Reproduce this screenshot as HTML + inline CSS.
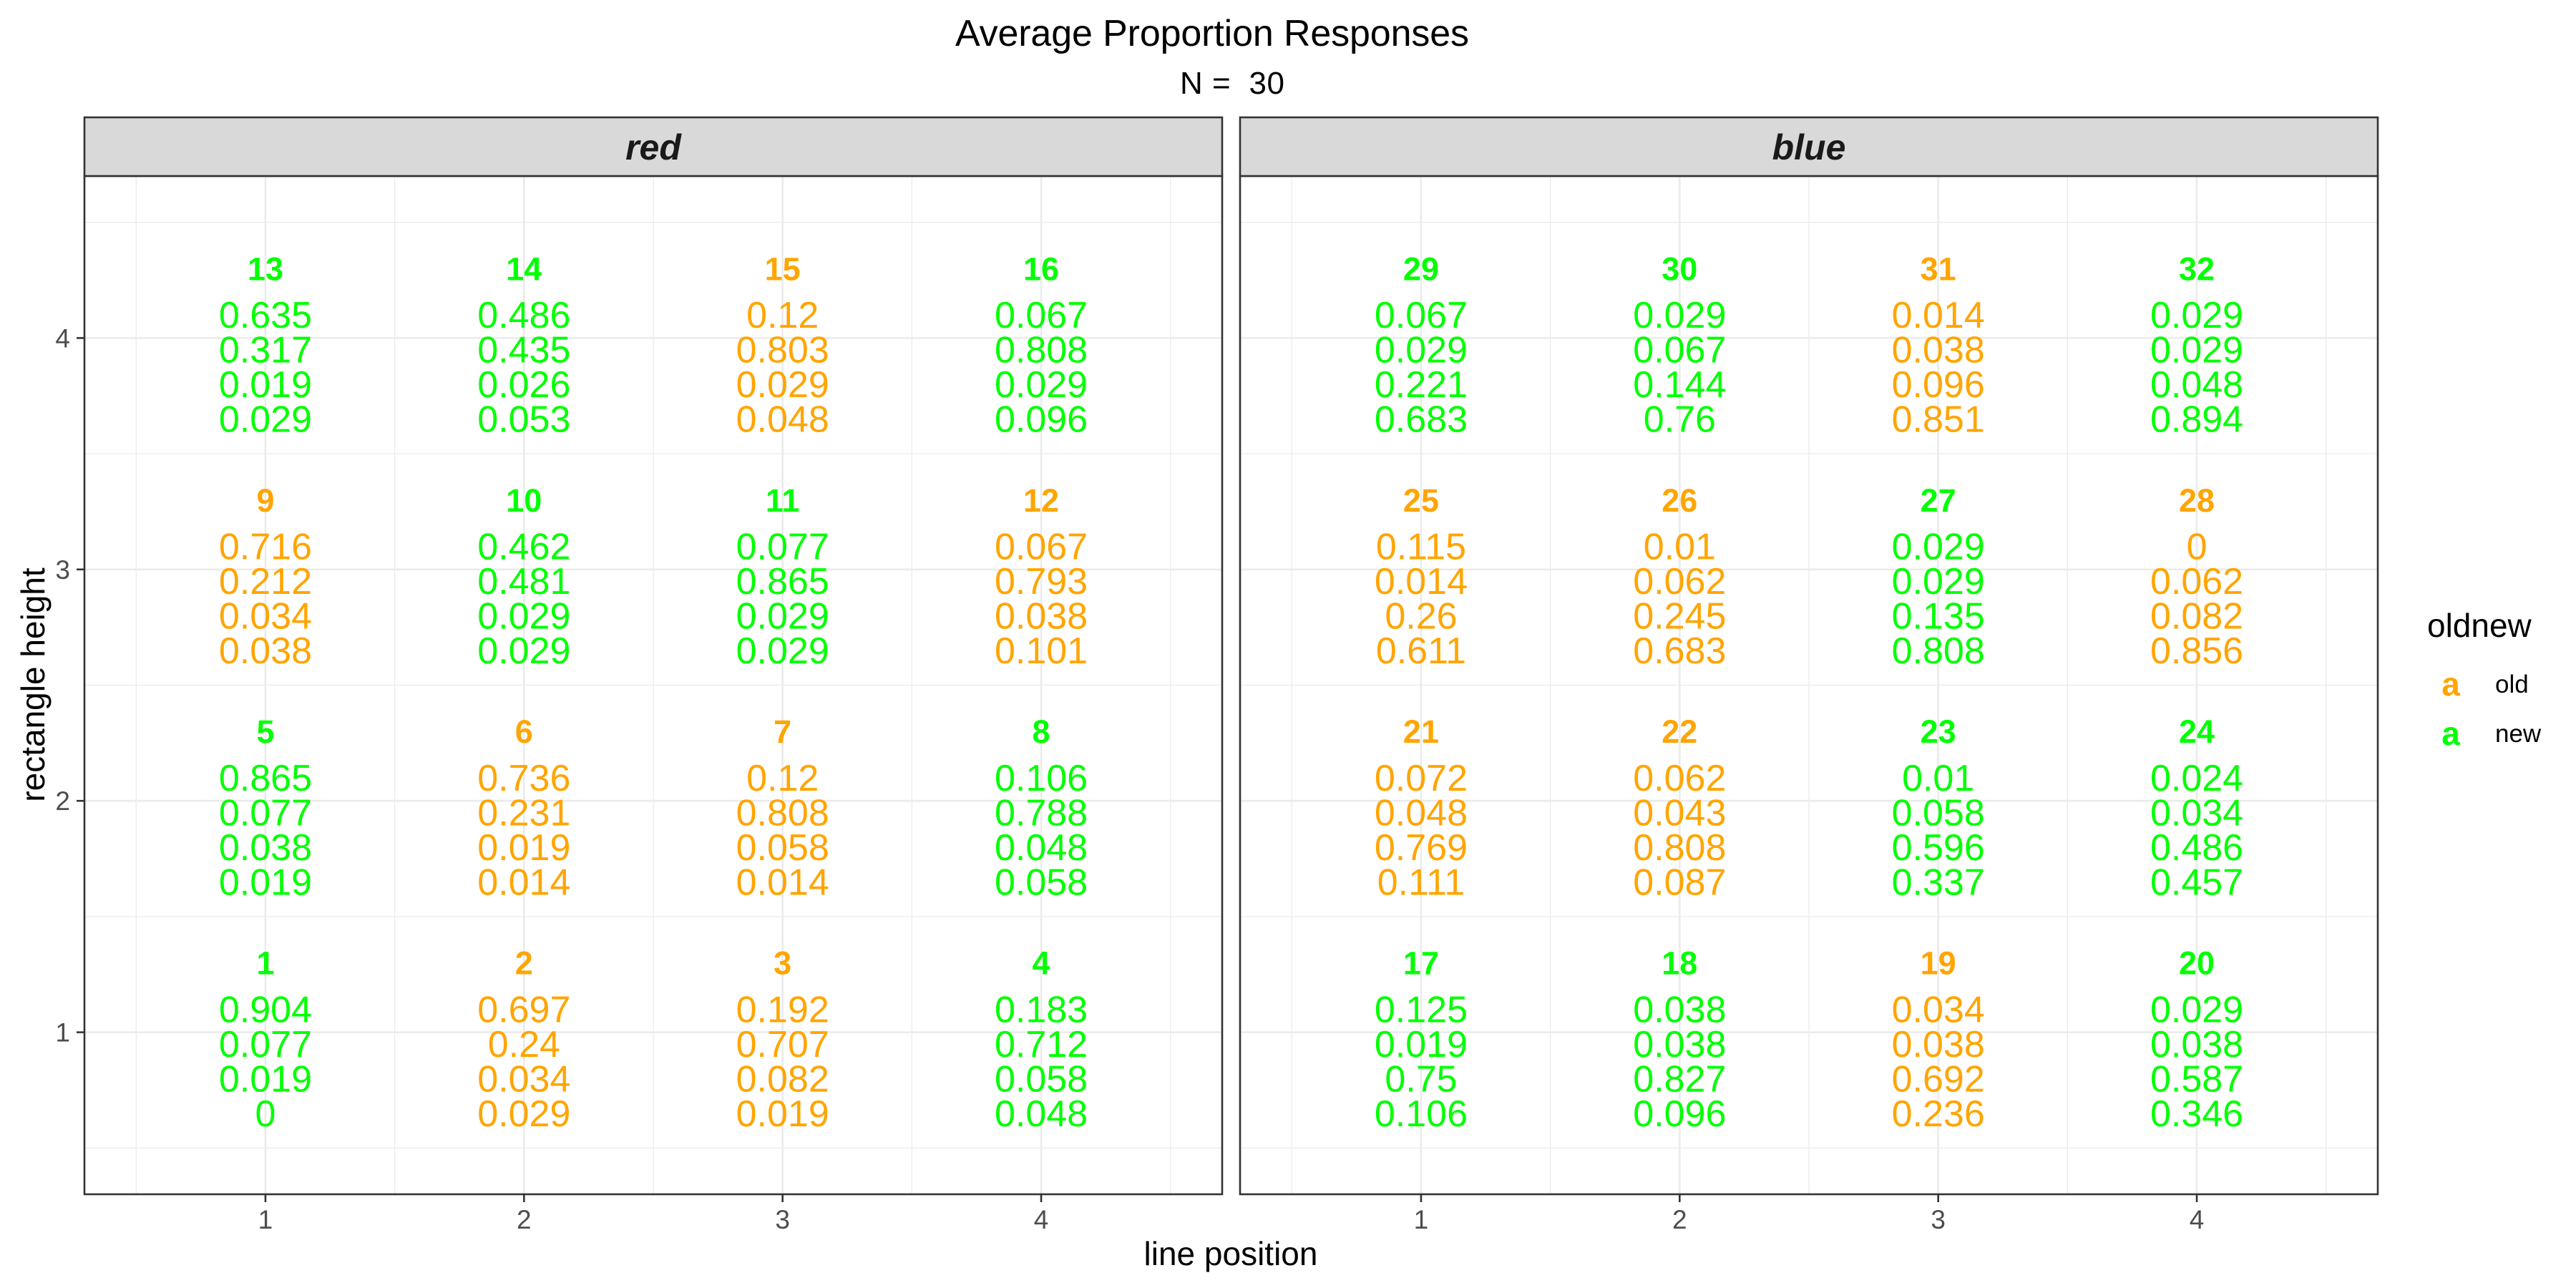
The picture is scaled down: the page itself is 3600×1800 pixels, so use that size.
<!DOCTYPE html>
<html><head><meta charset="utf-8"><style>
html,body{margin:0;padding:0;background:#fff}
svg{display:block}
text{font-family:"Liberation Sans",Arial,sans-serif}
</style></head><body>
<svg id="chart" width="3600" height="1800" viewBox="0 0 3600 1800" xmlns="http://www.w3.org/2000/svg">
<rect x="0" y="0" width="3600" height="1800" fill="#fff"/>
<text x="1335" y="64" font-size="52" textLength="718" fill="#000">Average Proportion Responses</text>
<text x="1649" y="131" font-size="44" textLength="146" fill="#000" xml:space="preserve">N =  30</text>
<g id="panels"></g>
<text x="1720" y="1768" font-size="46" text-anchor="middle" fill="#000">line position</text>
<text transform="translate(62,957) rotate(-90)" font-size="46" text-anchor="middle" fill="#000">rectangle height</text>
<g>
<text x="3392" y="890" font-size="46" fill="#000">oldnew</text>
<text x="3425" y="972" font-size="46" font-weight="bold" text-anchor="middle" fill="#FFA500">a</text>
<text x="3487" y="968" font-size="35" fill="#000">old</text>
<text x="3425" y="1041" font-size="46" font-weight="bold" text-anchor="middle" fill="#00FF00">a</text>
<text x="3487" y="1037" font-size="35" fill="#000">new</text>
</g>
</svg>
<script>
const facets = ["red", "blue"];
const xTicks = [1, 2, 3, 4];
const yTicks = [1, 2, 3, 4];
// cell order: cell number = facetOffset + (row-1)*4 + col
const redOld = [0,1,1,0, 0,1,1,0, 1,0,0,1, 0,0,1,0];
const blueOld = [0,0,1,0, 1,1,0,0, 1,1,0,1, 0,0,1,0];
const redV1 = ["0.904","0.697","0.192","0.183","0.865","0.736","0.12","0.106","0.716","0.462","0.077","0.067","0.635","0.486","0.12","0.067"];
const redV2 = ["0.077","0.24","0.707","0.712","0.077","0.231","0.808","0.788","0.212","0.481","0.865","0.793","0.317","0.435","0.803","0.808"];
const redV3 = ["0.019","0.034","0.082","0.058","0.038","0.019","0.058","0.048","0.034","0.029","0.029","0.038","0.019","0.026","0.029","0.029"];
const redV4 = ["0","0.029","0.019","0.048","0.019","0.014","0.014","0.058","0.038","0.029","0.029","0.101","0.029","0.053","0.048","0.096"];
const blueV1 = ["0.125","0.038","0.034","0.029","0.072","0.062","0.01","0.024","0.115","0.01","0.029","0","0.067","0.029","0.014","0.029"];
const blueV2 = ["0.019","0.038","0.038","0.038","0.048","0.043","0.058","0.034","0.014","0.062","0.029","0.062","0.029","0.067","0.038","0.029"];
const blueV3 = ["0.75","0.827","0.692","0.587","0.769","0.808","0.596","0.486","0.26","0.245","0.135","0.082","0.221","0.144","0.096","0.048"];
const blueV4 = ["0.106","0.096","0.236","0.346","0.111","0.087","0.337","0.457","0.611","0.683","0.808","0.856","0.683","0.76","0.851","0.894"];

const NS = "http://www.w3.org/2000/svg";
const panelsG = document.getElementById("panels");
const panelLefts = [118, 1733];
const panelW = 1590, panelTop = 246, panelBottom = 1669, stripTop = 164;
const xMin = 0.3, xMax = 4.7, yMin = 0.3, yMax = 4.7;
function mk(tag, attrs, parent) {
  const e = document.createElementNS(NS, tag);
  for (const k in attrs) e.setAttribute(k, attrs[k]);
  parent.appendChild(e);
  return e;
}
function yScale(v) { return panelBottom - (v - yMin) / (yMax - yMin) * (panelBottom - panelTop); }
const dataSets = [
  {old: redOld, v: [redV1, redV2, redV3, redV4], off: 0},
  {old: blueOld, v: [blueV1, blueV2, blueV3, blueV4], off: 16}
];
facets.forEach((f, pi) => {
  const L = panelLefts[pi];
  const xScale = v => L + (v - xMin) / (xMax - xMin) * panelW;
  const g = mk("g", {}, panelsG);
  
  
  // minor grid
  for (let m = 0.5; m <= 4.5; m += 1) {
    const l1 = mk("line", {x1: xScale(m), x2: xScale(m), y1: panelTop, y2: panelBottom, stroke: "#EBEBEB", "stroke-width": 1.3}, g);
    
    
    const l2 = mk("line", {x1: L, x2: L + panelW, y1: yScale(m), y2: yScale(m), stroke: "#EBEBEB", "stroke-width": 1.3}, g);
    
    
  }
  xTicks.forEach(t => {
    const l = mk("line", {x1: xScale(t), x2: xScale(t), y1: panelTop, y2: panelBottom, stroke: "#EBEBEB", "stroke-width": 2.6}, g);
    
    
    const tk = mk("line", {x1: xScale(t), x2: xScale(t), y1: panelBottom, y2: panelBottom + 11, stroke: "#333", "stroke-width": 2.6}, g);
    
    
    const tl = mk("text", {x: xScale(t), y: 1717, "font-size": 37, fill: "#4D4D4D", "text-anchor": "middle"}, g);
    tl.textContent = t;
    
    
  });
  yTicks.forEach(t => {
    const l = mk("line", {x1: L, x2: L + panelW, y1: yScale(t), y2: yScale(t), stroke: "#EBEBEB", "stroke-width": 2.6}, g);
    
    
    if (pi === 0) {
      const tk = mk("line", {x1: L - 11, x2: L, y1: yScale(t), y2: yScale(t), stroke: "#333", "stroke-width": 2.6}, g);
      
      
      const tl = mk("text", {x: L - 20, y: yScale(t) + 13, "font-size": 37, fill: "#4D4D4D", "text-anchor": "end"}, g);
      tl.textContent = t;
      
      
    }
  });
  // cells
  const ds = dataSets[pi];
  for (let i = 0; i < 16; i++) {
    const col = xTicks[i % 4], row = yTicks[Math.floor(i / 4)];
    const color = ds.old[i] ? "#FFA500" : "#00FF00";
    const cx = xScale(col);
    const lab = mk("text", {x: cx, y: yScale(row + 0.3) + 16, "font-size": 45, "font-weight": "bold", fill: color, "text-anchor": "middle"}, g);
    lab.textContent = ds.off + i + 1;
    
    
    const offs = [0.1, -0.05, -0.2, -0.35];
    offs.forEach((o, k) => {
      const t = mk("text", {x: cx, y: yScale(row + o) + 18, "font-size": 52, fill: color, "text-anchor": "middle"}, g);
      t.textContent = ds.v[k][i];
      
      
    });
  }
  const border = mk("rect", {x: L, y: panelTop, width: panelW, height: panelBottom - panelTop, fill: "none", stroke: "#333", "stroke-width": 2.6}, g);
  
  
  const strip = mk("rect", {x: L, y: stripTop, width: panelW, height: panelTop - stripTop, fill: "#D9D9D9", stroke: "#333", "stroke-width": 2.6}, g);
  
  
  const st = mk("text", {x: L + panelW / 2, y: 223, "font-size": 50, "font-weight": "bold", "font-style": "italic", fill: "#1A1A1A", "text-anchor": "middle"}, g);
  st.textContent = f;
  
  
});
</script>
</body></html>
